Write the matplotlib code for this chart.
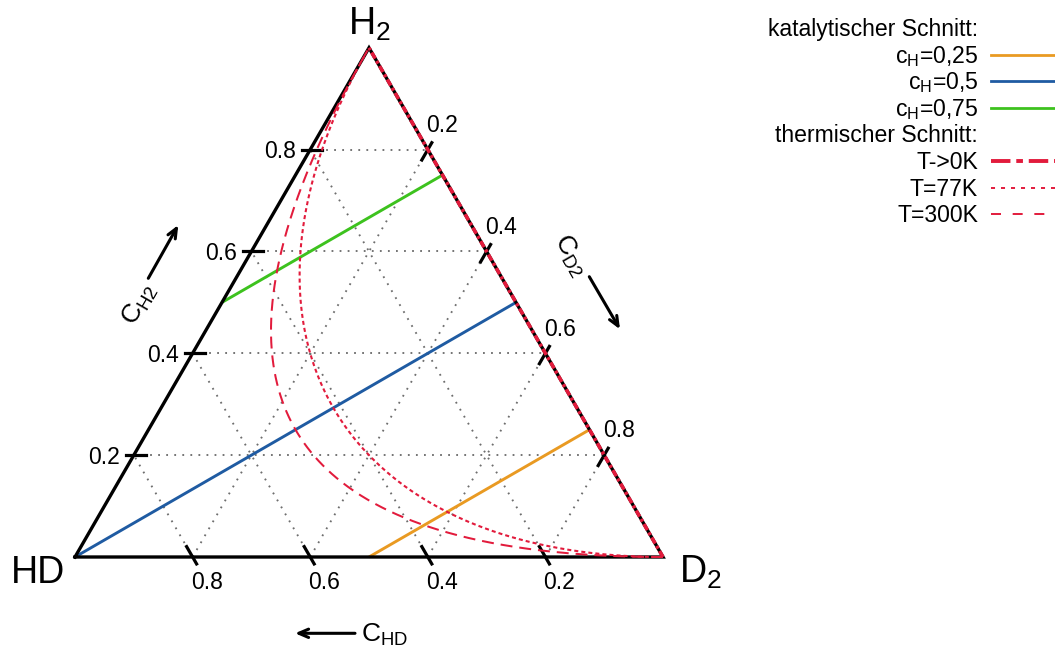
import numpy as np
import matplotlib
matplotlib.use("Agg")
import matplotlib.pyplot as plt
from matplotlib.lines import Line2D

plt.rcParams["font.family"] = ["Liberation Sans", "DejaVu Sans"]
plt.rcParams["mathtext.fontset"] = "custom"
plt.rcParams["mathtext.rm"] = "Liberation Sans"
plt.rcParams["mathtext.it"] = "Liberation Sans:italic"
plt.rcParams["mathtext.bf"] = "Liberation Sans:bold"
plt.rcParams["lines.scale_dashes"] = False

# ---- data -------------------------------------------------------------
grid_values = [0.2, 0.4, 0.6, 0.8]
tick_labels = ["0.2", "0.4", "0.6", "0.8"]

# catalytic sections: constant hydrogen atom fraction c_H
cat_cH = [0.25, 0.5, 0.75]
cat_labels = [r"c$_\mathrm{H}$=0,25", r"c$_\mathrm{H}$=0,5", r"c$_\mathrm{H}$=0,75"]
cat_colors = ["#E99A22", "#1F5BA2", "#3DC21E"]

# thermal sections: equilibrium constant K = [HD]^2 / ([H2][D2])
therm_labels = ["T->0K", "T=77K", "T=300K"]
therm_K = [0.0, 2.0, 4.0]
RED = "#E21B3C"

S3 = np.sqrt(3) / 2


def tern(h2, hd, d2):
    """Ternary fractions -> cartesian (HD at origin, D2 at (1,0), H2 on top)."""
    h2 = np.asarray(h2, float)
    d2 = np.asarray(d2, float)
    return d2 + 0.5 * h2, S3 * h2


def equilibrium(K, n=600):
    c = np.linspace(0.0, 1.0, n)
    q = c * (1 - c)
    if K <= 0:
        hd = np.zeros_like(c)
    else:
        hd = 2 * q / (0.5 + np.sqrt(0.25 + 4 * (1 - K / 4) * q / K))
    h2 = c - hd / 2
    d2 = 1 - c - hd / 2
    return tern(h2, hd, d2)


# ---- figure -----------------------------------------------------------
W, H = 1055, 651
SIDE, X0, Y0 = 588.0, 75.0, 557.0
fig = plt.figure(figsize=(W / 100, H / 100), dpi=100)
ax = fig.add_axes([0, 0, 1, 1])
ax.set_xlim(-X0 / SIDE, (W - X0) / SIDE)
ax.set_ylim((Y0 - H) / SIDE, Y0 / SIDE)
ax.axis("off")


def P(px, py):
    return (px - X0) / SIDE, (Y0 - py) / SIDE


# dotted grid
grid_kw = dict(color="#6e6e6e", lw=1.35, ls=(0, (1.3, 4.5)), zorder=1)
for v in grid_values:
    ax.plot(*zip(tern(v, 1 - v, 0), tern(v, 0, 1 - v)), **grid_kw)
    ax.plot(*zip(tern(0, 1 - v, v), tern(1 - v, 0, v)), **grid_kw)
    ax.plot(*zip(tern(0, v, 1 - v), tern(1 - v, v, 0)), **grid_kw)

# catalytic sections
for c, col in zip(cat_cH, cat_colors):
    hd = min(2 * c, 2 * (1 - c))
    a = tern(c - hd / 2, hd, 1 - c - hd / 2)
    b = tern(c, 0, 1 - c)
    ax.plot([a[0], b[0]], [a[1], b[1]], color=col, lw=2.1, zorder=2,
            solid_capstyle="butt")

# triangle
tri = [tern(0, 1, 0), tern(0, 0, 1), tern(1, 0, 0), tern(0, 1, 0)]
ax.plot([p[0] for p in tri], [p[1] for p in tri], color="black", lw=2.4,
        zorder=3, solid_joinstyle="miter")

# ticks and tick labels
t_out, t_in = 0.0136, 0.0204
lab_kw = dict(fontsize=16.5, ha="center", va="center", zorder=5)
up_right = np.array([0.5, S3])
up_left = np.array([-0.5, S3])
for v, lab in zip(grid_values, tick_labels):
    # left side: c_H2
    p = np.array(tern(v, 1 - v, 0))
    d = np.array([1.0, 0.0])
    ax.plot(*zip(p - t_out * d, p + t_in * d), color="black", lw=2.3, zorder=3)
    ax.text(p[0] - 0.051, p[1] - 0.0034, lab, **lab_kw)
    # right side: c_D2
    p = np.array(tern(1 - v, 0, v))
    ax.plot(*zip(p + t_out * up_right, p - t_in * up_right), color="black", lw=2.3, zorder=3)
    ax.text(p[0] + 0.0247, p[1] + 0.0413, lab, **lab_kw)
    # bottom: c_HD
    p = np.array(tern(0, v, 1 - v))
    ax.plot(*zip(p - t_out * up_left, p + t_in * up_left), color="black", lw=2.3, zorder=3)
    ax.text(p[0] + 0.0238, p[1] - 0.0442, lab, **lab_kw)

# thermal sections
therm_styles = [
    dict(lw=2.6, ls=(0, (5.0, 2.0, 2.2, 2.0))),
    dict(lw=1.5, ls=(0, (2.9, 2.2))),
    dict(lw=1.45, ls=(0, (8.6, 5.0))),
]
for K, st in zip(therm_K, therm_styles):
    x, y = equilibrium(K)
    ax.plot(x, y, color=RED, zorder=4, **st)

# vertex labels
vfs = 27
ax.text(*P(369, 35), r"H$_2$", fontsize=vfs, ha="center", va="baseline")
ax.text(*P(38, 583), "HD", fontsize=vfs, ha="center", va="baseline")
ax.text(*P(679, 583), r"D$_2$", fontsize=vfs, ha="left", va="baseline")

# axis titles with arrows
afs = 19
arr_kw = dict(arrowstyle="->,head_length=0.7,head_width=0.3", color="black",
              lw=2.2, shrinkA=0, shrinkB=0)
ax.annotate("", xy=P(178.3, 225), xytext=P(148.3, 278.3), arrowprops=arr_kw)
ax.text(*P(139.7, 304.2), r"C$_\mathrm{H2}$", fontsize=afs, rotation=60,
        ha="center", va="center", rotation_mode="anchor")
ax.annotate("", xy=P(620, 329.3), xytext=P(589.3, 276.7), arrowprops=arr_kw)
ax.text(*P(570, 255), r"C$_\mathrm{D2}$", fontsize=afs, rotation=-60,
        ha="center", va="center", rotation_mode="anchor")
ax.annotate("", xy=P(295, 633.3), xytext=P(355, 633.3), arrowprops=arr_kw)
ax.text(*P(361, 642), r"C$_\mathrm{HD}$", fontsize=afs, ha="left", va="baseline")

# legend
leg_rows = ["katalytischer Schnitt:"] + cat_labels + ["thermischer Schnitt:"] + therm_labels
leg_styles = ([None]
              + [dict(color=c, lw=2.0, ls="-") for c in cat_colors]
              + [None]
              + [dict(color=RED, lw=2.8, ls=(0, (14.0, 4.2, 4.8, 4.2))),
                 dict(color=RED, lw=1.4, ls=(0, (2.9, 4.3))),
                 dict(color=RED, lw=1.4, ls=(0, (7.2, 8.4)))])
for i, (lab, st) in enumerate(zip(leg_rows, leg_styles)):
    yc = 28 + i * 26.6
    ax.text(*P(978, yc + 8), lab, fontsize=16.6, ha="right", va="baseline")
    if st is not None:
        (x1, y1), (x2, y2) = P(991, yc), P(1060, yc)
        ax.add_line(Line2D([x1, x2], [y1, y2], clip_on=False, **st))

fig.savefig("out.png", dpi=100)
